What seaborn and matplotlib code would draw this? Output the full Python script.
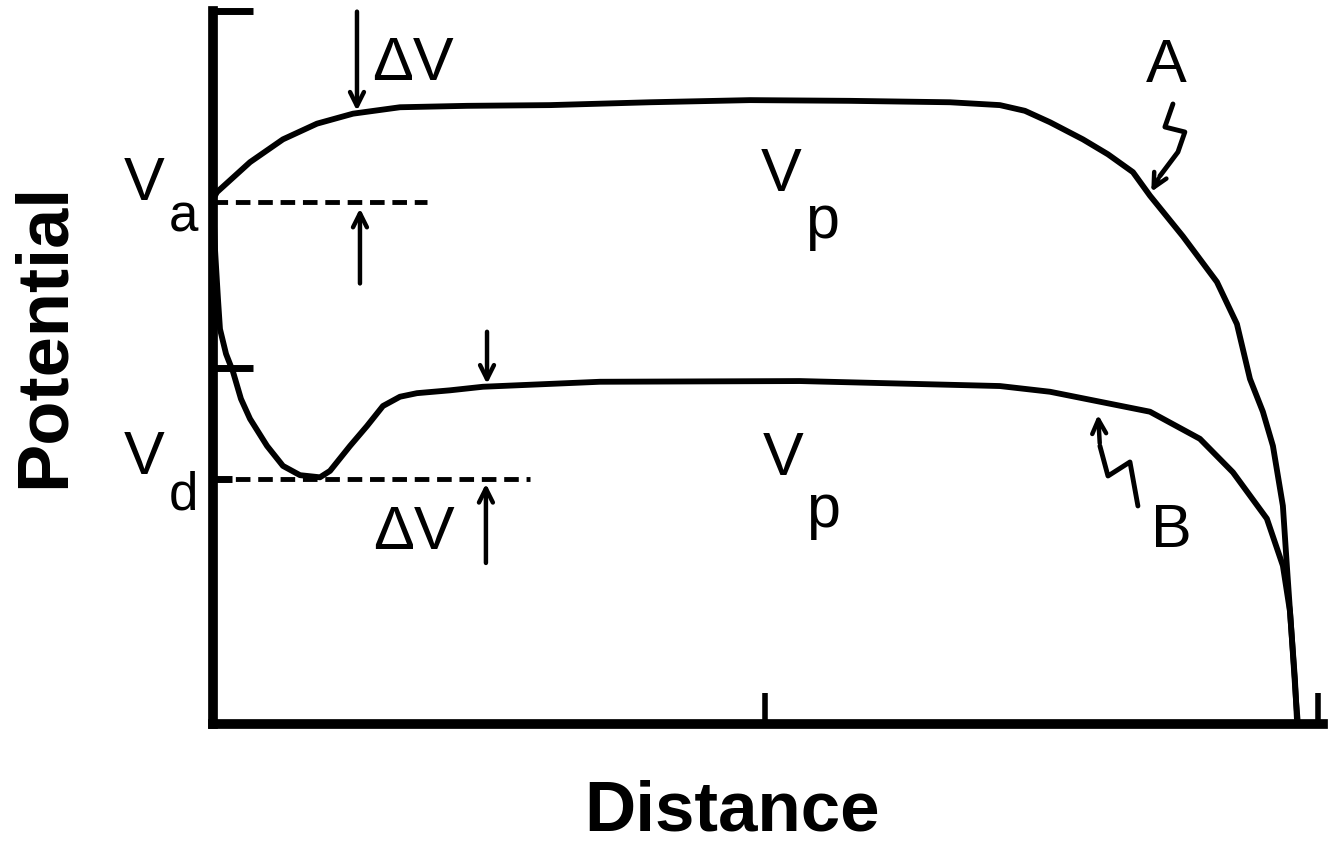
import numpy as np
import pandas as pd
import matplotlib
matplotlib.use("Agg")
import matplotlib.pyplot as plt
import seaborn as sns

# Curve A: potential profile along the distance axis
dist_a = [0, 0.036, 0.335, 0.633, 0.941, 1.267, 1.692, 2.299, 3.050, 3.955,
          4.860, 5.765, 6.670, 7.122, 7.348, 7.575, 7.873, 8.100, 8.326, 8.480,
          8.778, 9.086, 9.267, 9.385, 9.502, 9.593, 9.683, 9.719, 9.765, 9.801,
          9.819]
pot_a = [7.36, 7.46, 7.88, 8.20, 8.42, 8.56, 8.65, 8.67, 8.68, 8.72,
         8.75, 8.74, 8.72, 8.68, 8.60, 8.44, 8.20, 7.99, 7.74, 7.41,
         6.84, 6.20, 5.61, 4.84, 4.38, 3.90, 3.06, 2.22, 1.19, 0.35,
         0.0]

# Curve B: potential profile with the dip near the left electrode
dist_b = [0, 0.018, 0.045, 0.063, 0.118, 0.181, 0.253, 0.335, 0.489, 0.633,
          0.787, 0.968, 1.059, 1.240, 1.394, 1.538, 1.692, 1.846, 2.145, 2.443,
          3.502, 5.312, 7.122, 7.575, 8.480, 8.932, 9.231, 9.538, 9.683, 9.747,
          9.792, 9.810]
pot_b = [7.36, 6.66, 5.96, 5.54, 5.19, 4.94, 4.56, 4.28, 3.90, 3.62,
         3.49, 3.46, 3.55, 3.90, 4.18, 4.46, 4.59, 4.64, 4.68, 4.73,
         4.80, 4.81, 4.74, 4.66, 4.38, 4.00, 3.53, 2.88, 2.22, 1.58,
         0.63, 0.07]

v_a = 7.32   # applied potential level
v_d = 3.44   # potential at the dip
mid_tick = 5.0
end_tick = 10.0

df = pd.concat([
    pd.DataFrame({"Distance": dist_a, "Potential": pot_a, "curve": "A"}),
    pd.DataFrame({"Distance": dist_b, "Potential": pot_b, "curve": "B"}),
])

sns.set_style("white")
plt.rcParams["font.family"] = ["Liberation Sans", "DejaVu Sans"]
plt.rcParams["text.color"] = "black"

fig = plt.figure(figsize=(13.28, 8.45), dpi=100)
ax = fig.add_axes([0.1604, 0.142, 0.832, 0.8438])

sns.lineplot(data=df, x="Distance", y="Potential", units="curve",
             estimator=None, sort=False, color="black", linewidth=4.2,
             ax=ax, legend=False)

ax.set_xlim(0, 10)
ax.set_ylim(0, 10)
ax.set_xlabel("")
ax.set_ylabel("")

for s in ["top", "right"]:
    ax.spines[s].set_visible(False)
for s in ["left", "bottom"]:
    ax.spines[s].set_linewidth(7)
    ax.spines[s].set_color("black")
ax.spines["bottom"].set_bounds(0, 10.05)

ax.set_xticks([mid_tick, end_tick])
ax.set_yticks([mid_tick, end_tick])
ax.set_yticks([v_d], minor=True)
ax.tick_params(axis="both", which="major", direction="in", length=29,
               width=5, labelleft=False, labelbottom=False, color="black",
               left=True, bottom=True)
ax.tick_params(axis="x", which="major", length=22, width=4)
ax.tick_params(axis="y", which="minor", direction="in", length=14, width=5,
               color="black", left=True)

# reference levels
ax.plot([0, 1.94], [v_a, v_a], color="black", lw=3.5, ls=(0, (3, 1.6)))
ax.plot([0, 2.87], [v_d, v_d], color="black", lw=3.5, ls=(0, (3, 1.6)))

arrow = dict(arrowstyle="->,head_length=1.0,head_width=0.5", color="black", lw=3.2)
# ΔV markers
ax.annotate("", xy=(1.303, 8.56), xytext=(1.303, 10.03), arrowprops=arrow,
            annotation_clip=False)
ax.annotate("", xy=(1.33, 7.27), xytext=(1.33, 6.14), arrowprops=arrow)
ax.annotate("", xy=(2.47, 3.41), xytext=(2.47, 2.22), arrowprops=arrow)
ax.annotate("", xy=(2.48, 4.73), xytext=(2.48, 5.54), arrowprops=arrow)

# squiggly pointers to the curves
sq_a_x = [8.688, 8.615, 8.796, 8.733, 8.570]
sq_a_y = [8.696, 8.373, 8.303, 8.022, 7.686]
ax.plot(sq_a_x, sq_a_y, color="black", lw=3.5, solid_joinstyle="round")
ax.annotate("", xy=(8.48, 7.43), xytext=(sq_a_x[-1], sq_a_y[-1]), arrowprops=arrow)

sq_b_x = [8.371, 8.299, 8.100, 8.027]
sq_b_y = [3.058, 3.675, 3.478, 3.899]
ax.plot(sq_b_x, sq_b_y, color="black", lw=3.5, solid_joinstyle="round")
ax.annotate("", xy=(8.009, 4.376), xytext=(sq_b_x[-1], sq_b_y[-1]), arrowprops=arrow)

lab = dict(fontsize=44, color="black", ha="center", va="center")
sub = dict(fontsize=38, color="black", ha="center", va="center")
ax.text(1.81, 9.26, "ΔV", **lab)
ax.text(1.82, 2.69, "ΔV", **lab)
ax.text(5.14, 7.71, "V", **lab)
ax.text(5.51, 7.05, "p", **lab)
ax.text(5.16, 3.73, "V", **lab)
ax.text(5.52, 3.00, "p", **lab)
ax.text(8.63, 9.23, "A", **lab)
ax.text(8.67, 2.71, "B", **lab)
ax.text(-0.62, 7.58, "V", clip_on=False, **lab)
ax.text(-0.27, 7.12, "a", clip_on=False, **sub)
ax.text(-0.62, 3.74, "V", clip_on=False, **lab)
ax.text(-0.27, 3.22, "d", clip_on=False, **sub)

fig.text(0.0339, 0.6036, "Potential", rotation=90, fontsize=52,
         fontweight="bold", ha="center", va="center", color="black")
fig.text(0.551, 0.038, "Distance", fontsize=51, fontweight="bold",
         ha="center", va="center", color="black")

fig.savefig("out.png", dpi=100)
